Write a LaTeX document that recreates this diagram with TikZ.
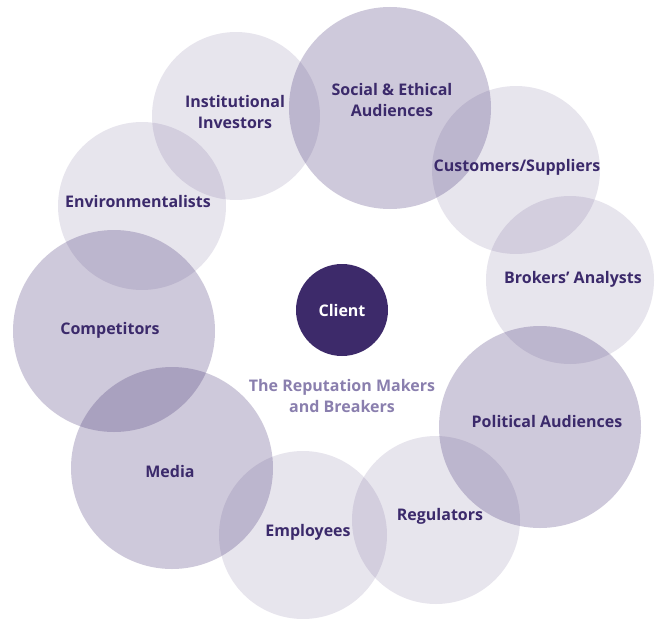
\documentclass[tikz,border=0pt]{standalone}
\usepackage{fontspec}
\setmainfont{Open Sans}
\definecolor{plum}{RGB}{60,40,110}
\definecolor{ink}{RGB}{59,42,107}
\definecolor{subink}{RGB}{138,127,174}
\definecolor{clientfill}{RGB}{61,42,106}

\begin{document}
\begin{tikzpicture}[x=1pt,y=-1pt,
  lite/.style={circle,fill=plum,fill opacity=0.12,minimum size=168pt,inner sep=0pt},
  dark/.style={circle,fill=plum,fill opacity=0.25,minimum size=202pt,inner sep=0pt},
  lbl/.style={font=\bfseries\fontsize{16}{21}\selectfont,text=ink,align=center}]
\useasboundingbox (0,0) rectangle (660,618);

% the ring of audiences
\node[lite] (invC) at (236,116) {};
\node[dark] (socC) at (390,108) {};
\node[lite] (cusC) at (516,170) {};
\node[lite] (broC) at (570,280) {};
\node[dark] (polC) at (540,427) {};
\node[lite] (regC) at (436,520) {};
\node[lite] (empC) at (303,535) {};
\node[dark] (medC) at (172,468) {};
\node[dark] (comC) at (114,331) {};
\node[lite] (envC) at (142,206) {};

% centre
\node[circle,fill=clientfill,minimum size=92pt,inner sep=0pt,text=white,
  font=\bfseries\fontsize{16}{21}\selectfont] (client) at (342,310) {Client};

% labels
\node[lbl] (inv) at (235,112) {Institutional\\Investors};
\node[lbl] (soc) at (392,100) {Social \& Ethical\\Audiences};
\node[lbl] (cus) at (517,167) {Customers/Suppliers};
\node[lbl] (bro) at (573,279) {Brokers’ Analysts};
\node[lbl] (pol) at (547,421) {Political Audiences};
\node[lbl] (reg) at (440,516) {Regulators};
\node[lbl] (emp) at (308,532) {Employees};
\node[lbl] (med) at (170,471) {Media};
\node[lbl] (com) at (110,330) {Competitors};
\node[lbl] (env) at (138,201) {Environmentalists};
\node[lbl,text=subink] (title) at (342,396) {The Reputation Makers\\and Breakers};
\end{tikzpicture}
\end{document}
